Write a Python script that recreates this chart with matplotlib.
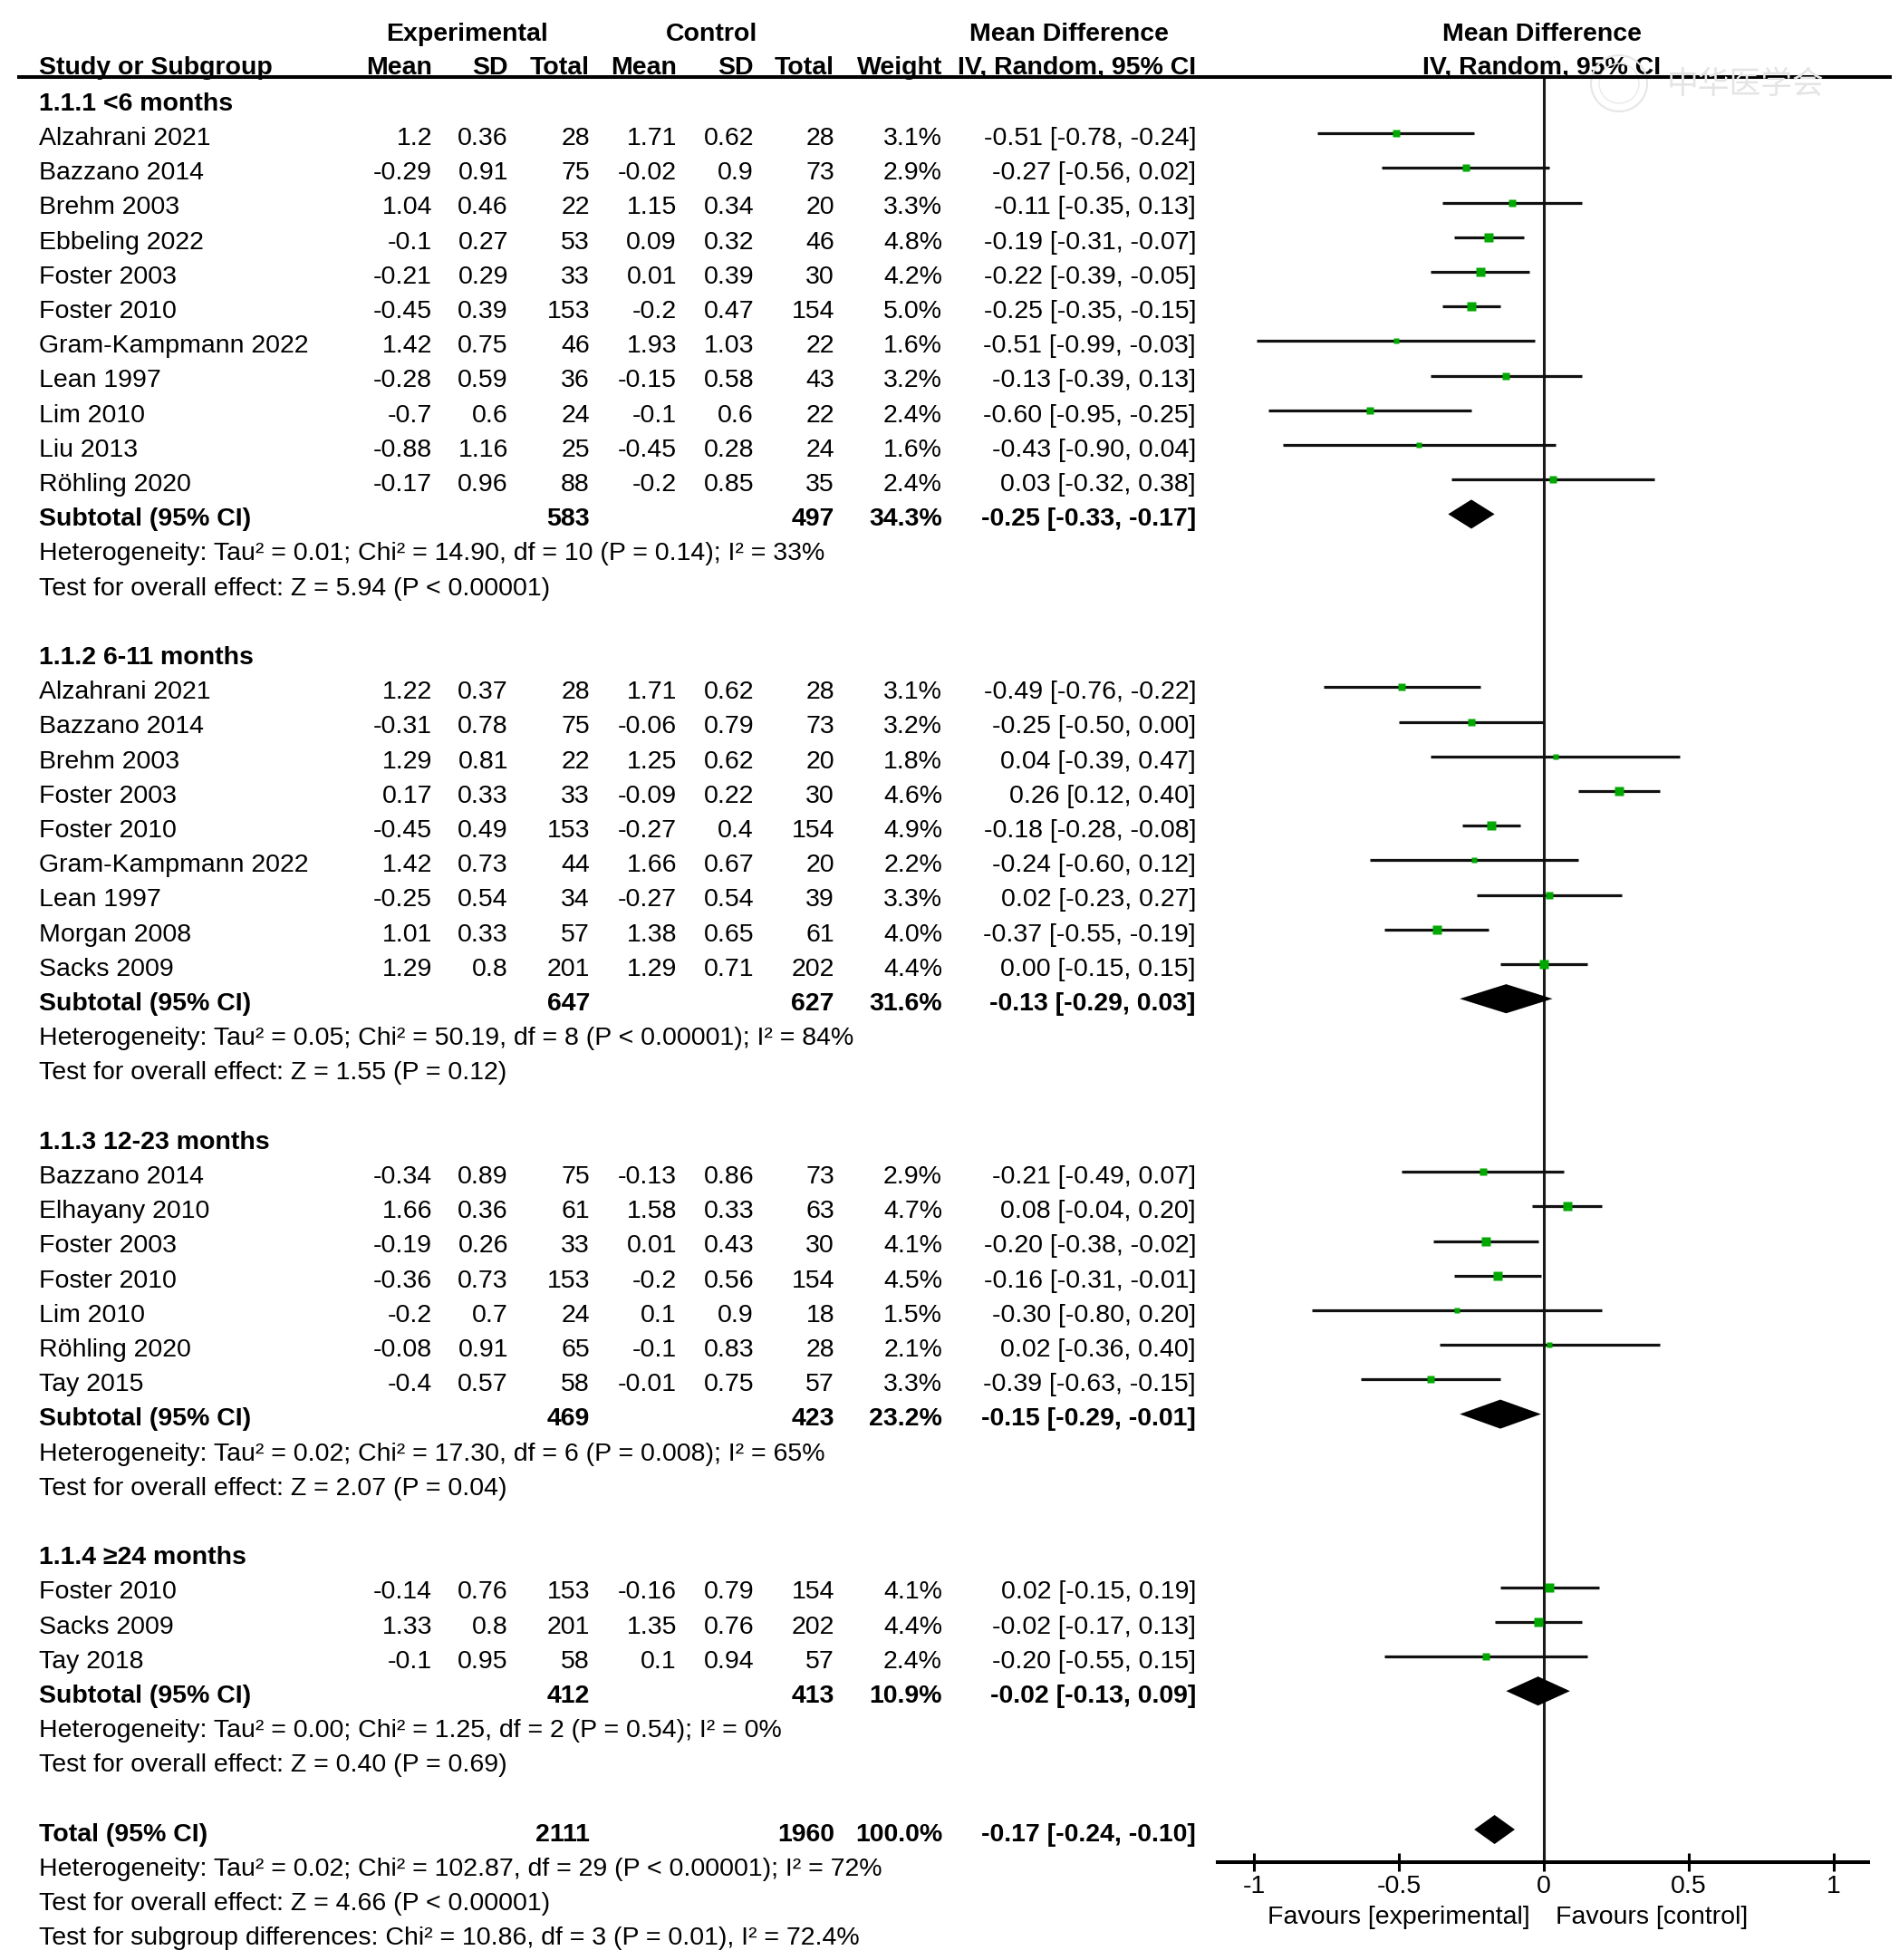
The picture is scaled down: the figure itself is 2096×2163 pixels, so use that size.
import matplotlib
matplotlib.use("Agg")
import matplotlib.pyplot as plt
from matplotlib.transforms import blended_transform_factory
from matplotlib.lines import Line2D
from matplotlib.patches import Ellipse
import numpy as np

plt.rcParams['font.family'] = ['Liberation Sans', 'DejaVu Sans']

# ---------------- data ----------------
g1_title = "1.1.1 <6 months"
g1_studies = ["Alzahrani 2021", "Bazzano 2014", "Brehm 2003", "Ebbeling 2022", "Foster 2003",
              "Foster 2010", "Gram-Kampmann 2022", "Lean 1997", "Lim 2010", "Liu 2013", "Röhling 2020"]
g1_exp_mean = [1.2, -0.29, 1.04, -0.1, -0.21, -0.45, 1.42, -0.28, -0.7, -0.88, -0.17]
g1_exp_sd = [0.36, 0.91, 0.46, 0.27, 0.29, 0.39, 0.75, 0.59, 0.6, 1.16, 0.96]
g1_exp_n = [28, 75, 22, 53, 33, 153, 46, 36, 24, 25, 88]
g1_ctl_mean = [1.71, -0.02, 1.15, 0.09, 0.01, -0.2, 1.93, -0.15, -0.1, -0.45, -0.2]
g1_ctl_sd = [0.62, 0.9, 0.34, 0.32, 0.39, 0.47, 1.03, 0.58, 0.6, 0.28, 0.85]
g1_ctl_n = [28, 73, 20, 46, 30, 154, 22, 43, 22, 24, 35]
g1_weight = [3.1, 2.9, 3.3, 4.8, 4.2, 5.0, 1.6, 3.2, 2.4, 1.6, 2.4]
g1_md = [-0.51, -0.27, -0.11, -0.19, -0.22, -0.25, -0.51, -0.13, -0.60, -0.43, 0.03]
g1_lo = [-0.78, -0.56, -0.35, -0.31, -0.39, -0.35, -0.99, -0.39, -0.95, -0.90, -0.32]
g1_hi = [-0.24, 0.02, 0.13, -0.07, -0.05, -0.15, -0.03, 0.13, -0.25, 0.04, 0.38]
g1_subtotal = [583, 497, 34.3, -0.25, -0.33, -0.17]
g1_het = "Heterogeneity: Tau² = 0.01; Chi² = 14.90, df = 10 (P = 0.14); I² = 33%"
g1_test = "Test for overall effect: Z = 5.94 (P < 0.00001)"

g2_title = "1.1.2 6-11 months"
g2_studies = ["Alzahrani 2021", "Bazzano 2014", "Brehm 2003", "Foster 2003", "Foster 2010",
              "Gram-Kampmann 2022", "Lean 1997", "Morgan 2008", "Sacks 2009"]
g2_exp_mean = [1.22, -0.31, 1.29, 0.17, -0.45, 1.42, -0.25, 1.01, 1.29]
g2_exp_sd = [0.37, 0.78, 0.81, 0.33, 0.49, 0.73, 0.54, 0.33, 0.8]
g2_exp_n = [28, 75, 22, 33, 153, 44, 34, 57, 201]
g2_ctl_mean = [1.71, -0.06, 1.25, -0.09, -0.27, 1.66, -0.27, 1.38, 1.29]
g2_ctl_sd = [0.62, 0.79, 0.62, 0.22, 0.4, 0.67, 0.54, 0.65, 0.71]
g2_ctl_n = [28, 73, 20, 30, 154, 20, 39, 61, 202]
g2_weight = [3.1, 3.2, 1.8, 4.6, 4.9, 2.2, 3.3, 4.0, 4.4]
g2_md = [-0.49, -0.25, 0.04, 0.26, -0.18, -0.24, 0.02, -0.37, 0.00]
g2_lo = [-0.76, -0.50, -0.39, 0.12, -0.28, -0.60, -0.23, -0.55, -0.15]
g2_hi = [-0.22, 0.00, 0.47, 0.40, -0.08, 0.12, 0.27, -0.19, 0.15]
g2_subtotal = [647, 627, 31.6, -0.13, -0.29, 0.03]
g2_het = "Heterogeneity: Tau² = 0.05; Chi² = 50.19, df = 8 (P < 0.00001); I² = 84%"
g2_test = "Test for overall effect: Z = 1.55 (P = 0.12)"

g3_title = "1.1.3 12-23 months"
g3_studies = ["Bazzano 2014", "Elhayany 2010", "Foster 2003", "Foster 2010", "Lim 2010",
              "Röhling 2020", "Tay 2015"]
g3_exp_mean = [-0.34, 1.66, -0.19, -0.36, -0.2, -0.08, -0.4]
g3_exp_sd = [0.89, 0.36, 0.26, 0.73, 0.7, 0.91, 0.57]
g3_exp_n = [75, 61, 33, 153, 24, 65, 58]
g3_ctl_mean = [-0.13, 1.58, 0.01, -0.2, 0.1, -0.1, -0.01]
g3_ctl_sd = [0.86, 0.33, 0.43, 0.56, 0.9, 0.83, 0.75]
g3_ctl_n = [73, 63, 30, 154, 18, 28, 57]
g3_weight = [2.9, 4.7, 4.1, 4.5, 1.5, 2.1, 3.3]
g3_md = [-0.21, 0.08, -0.20, -0.16, -0.30, 0.02, -0.39]
g3_lo = [-0.49, -0.04, -0.38, -0.31, -0.80, -0.36, -0.63]
g3_hi = [0.07, 0.20, -0.02, -0.01, 0.20, 0.40, -0.15]
g3_subtotal = [469, 423, 23.2, -0.15, -0.29, -0.01]
g3_het = "Heterogeneity: Tau² = 0.02; Chi² = 17.30, df = 6 (P = 0.008); I² = 65%"
g3_test = "Test for overall effect: Z = 2.07 (P = 0.04)"

g4_title = "1.1.4 ≥24 months"
g4_studies = ["Foster 2010", "Sacks 2009", "Tay 2018"]
g4_exp_mean = [-0.14, 1.33, -0.1]
g4_exp_sd = [0.76, 0.8, 0.95]
g4_exp_n = [153, 201, 58]
g4_ctl_mean = [-0.16, 1.35, 0.1]
g4_ctl_sd = [0.79, 0.76, 0.94]
g4_ctl_n = [154, 202, 57]
g4_weight = [4.1, 4.4, 2.4]
g4_md = [0.02, -0.02, -0.20]
g4_lo = [-0.15, -0.17, -0.55]
g4_hi = [0.19, 0.13, 0.15]
g4_subtotal = [412, 413, 10.9, -0.02, -0.13, 0.09]
g4_het = "Heterogeneity: Tau² = 0.00; Chi² = 1.25, df = 2 (P = 0.54); I² = 0%"
g4_test = "Test for overall effect: Z = 0.40 (P = 0.69)"

total_row = [2111, 1960, 100.0, -0.17, -0.24, -0.10]
total_het = "Heterogeneity: Tau² = 0.02; Chi² = 102.87, df = 29 (P < 0.00001); I² = 72%"
total_test = "Test for overall effect: Z = 4.66 (P < 0.00001)"
subgroup_test = "Test for subgroup differences: Chi² = 10.86, df = 3 (P = 0.01), I² = 72.4%"

x_ticks = [-1, -0.5, 0, 0.5, 1]
x_ticklabels = ["-1", "-0.5", "0", "0.5", "1"]

groups = [
    (g1_title, g1_studies, g1_exp_mean, g1_exp_sd, g1_exp_n, g1_ctl_mean, g1_ctl_sd, g1_ctl_n,
     g1_weight, g1_md, g1_lo, g1_hi, g1_subtotal, g1_het, g1_test),
    (g2_title, g2_studies, g2_exp_mean, g2_exp_sd, g2_exp_n, g2_ctl_mean, g2_ctl_sd, g2_ctl_n,
     g2_weight, g2_md, g2_lo, g2_hi, g2_subtotal, g2_het, g2_test),
    (g3_title, g3_studies, g3_exp_mean, g3_exp_sd, g3_exp_n, g3_ctl_mean, g3_ctl_sd, g3_ctl_n,
     g3_weight, g3_md, g3_lo, g3_hi, g3_subtotal, g3_het, g3_test),
    (g4_title, g4_studies, g4_exp_mean, g4_exp_sd, g4_exp_n, g4_ctl_mean, g4_ctl_sd, g4_ctl_n,
     g4_weight, g4_md, g4_lo, g4_hi, g4_subtotal, g4_het, g4_test),
]

# ---------------- layout ----------------
W, H = 2096, 2163
fig = plt.figure(figsize=(W / 100, H / 100), dpi=100)
fig.patch.set_facecolor("white")

ROW0, ROWH = 109.0, 38.2
AX_TOP, AX_BOT = 85.0, 2055.0
AX_L, AX_R = 1344.0, 2062.0
ZERO_PX, UNIT_PX = 1704.0, 320.0
TXT_OFF = 0.15   # text sits slightly below the marks of its row

ax = fig.add_axes([AX_L / W, 1 - AX_BOT / H, (AX_R - AX_L) / W, (AX_BOT - AX_TOP) / H])
ax.set_xlim((AX_L - ZERO_PX) / UNIT_PX, (AX_R - ZERO_PX) / UNIT_PX)
ax.set_ylim((AX_BOT - ROW0) / ROWH, (AX_TOP - ROW0) / ROWH)

tr = blended_transform_factory(fig.transFigure, ax.transData)
FS = 20.5


def fx(px):
    return px / W


# column right edges (px)
C_NAME = 43
C_EM, C_ES, C_EN = 477, 561, 651
C_CM, C_CS, C_CN = 747, 832, 921
C_W, C_CI = 1040, 1320


def txt(x, r, s, ha="right", bold=False, **kw):
    ax.text(fx(x), r + TXT_OFF, s, transform=tr, ha=ha, va="center", fontsize=FS,
            fontweight="bold" if bold else "normal", clip_on=False, color="black", **kw)


def fmt(v):
    return f"{v:g}"


def ci(md, lo, hi):
    return f"{md:.2f} [{lo:.2f}, {hi:.2f}]"


# headers
txt(516, -2.0, "Experimental", ha="center", bold=True)
txt(786, -2.0, "Control", ha="center", bold=True)
txt(1180, -2.0, "Mean Difference", ha="center", bold=True)
txt(1702, -2.0, "Mean Difference", ha="center", bold=True)
txt(C_NAME, -1.05, "Study or Subgroup", ha="left", bold=True)
for x, s in [(C_EM, "Mean"), (C_ES, "SD"), (C_EN, "Total"), (C_CM, "Mean"), (C_CS, "SD"),
             (C_CN, "Total"), (C_W, "Weight"), (C_CI, "IV, Random, 95% CI")]:
    txt(x, -1.05, s, bold=True)
txt(1702, -1.05, "IV, Random, 95% CI", ha="center", bold=True)

fig.add_artist(Line2D([21 / W, 2086 / W], [1 - 85 / H] * 2, color="black", lw=2.9))

GREEN = "#00a800"
r = 0
for (title, studies, em, es, en, cm, cs, cn, wt, md, lo, hi, sub, het, test) in groups:
    txt(C_NAME, r, title, ha="left", bold=True)
    r += 1
    for i in range(len(studies)):
        txt(C_NAME, r, studies[i], ha="left")
        txt(C_EM, r, fmt(em[i]))
        txt(C_ES, r, fmt(es[i]))
        txt(C_EN, r, str(en[i]))
        txt(C_CM, r, fmt(cm[i]))
        txt(C_CS, r, fmt(cs[i]))
        txt(C_CN, r, str(cn[i]))
        txt(C_W, r, f"{wt[i]:.1f}%")
        txt(C_CI, r, ci(md[i], lo[i], hi[i]))
        ax.plot([lo[i], hi[i]], [r, r], color="#111111", lw=2.3, solid_capstyle="butt", zorder=3)
        ax.plot([md[i]], [r], marker="s", ms=3.3 * np.sqrt(wt[i]), color=GREEN,
                mec="none", zorder=4)
        r += 1
    txt(C_NAME, r, "Subtotal (95% CI)", ha="left", bold=True)
    txt(C_EN, r, str(sub[0]), bold=True)
    txt(C_CN, r, str(sub[1]), bold=True)
    txt(C_W, r, f"{sub[2]:.1f}%", bold=True)
    txt(C_CI, r, ci(sub[3], sub[4], sub[5]), bold=True)
    ax.fill([sub[4], sub[3], sub[5], sub[3]], [r, r - 0.42, r, r + 0.42], color="black",
            lw=0, zorder=4)
    r += 1
    txt(C_NAME, r, het, ha="left")
    r += 1
    txt(C_NAME, r, test, ha="left")
    r += 2

txt(C_NAME, r, "Total (95% CI)", ha="left", bold=True)
txt(C_EN, r, str(total_row[0]), bold=True)
txt(C_CN, r, str(total_row[1]), bold=True)
txt(C_W, r, f"{total_row[2]:.1f}%", bold=True)
txt(C_CI, r, ci(total_row[3], total_row[4], total_row[5]), bold=True)
ax.fill([total_row[4], total_row[3], total_row[5], total_row[3]], [r, r - 0.42, r, r + 0.42],
        color="black", lw=0, zorder=4)
txt(C_NAME, r + 1, total_het, ha="left")
txt(C_NAME, r + 2, total_test, ha="left")
txt(C_NAME, r + 3, subgroup_test, ha="left")

# forest axis styling
ax.axvline(0, color="#1a1a1a", lw=2.2, zorder=2)
for s in ["top", "left", "right"]:
    ax.spines[s].set_visible(False)
ax.spines["bottom"].set_linewidth(2.9)
ax.set_yticks([])
ax.set_xticks(x_ticks)
ax.set_xticklabels(x_ticklabels)
ax.tick_params(axis="x", direction="inout", length=14, width=2.2, labelsize=FS, pad=3)
ax.patch.set_alpha(0)

fav_l = ax.text(-0.047, 52.55, "Favours [experimental]", ha="right", va="center", fontsize=FS)
fav_r = ax.text(0.04, 52.55, "Favours [control]", ha="left", va="center", fontsize=FS)
fav_l.set_clip_on(False)
fav_r.set_clip_on(False)

# faint watermark
fig.add_artist(Ellipse((1787 / W, 1 - 92 / H), 62 / W, 62 / H, fill=False,
                       edgecolor="#e6e6e6", lw=1.5))
fig.add_artist(Ellipse((1787 / W, 1 - 92 / H), 44 / W, 44 / H, fill=False,
                       edgecolor="#eaeaea", lw=1.0))
fig.text(1840 / W, 1 - 94 / H, "中华医学会", fontfamily=["Noto Sans CJK SC"], fontsize=25,
         color="#e4e4e4", ha="left", va="center", style="italic")

fig.savefig("out.png", dpi=100, facecolor="white")
